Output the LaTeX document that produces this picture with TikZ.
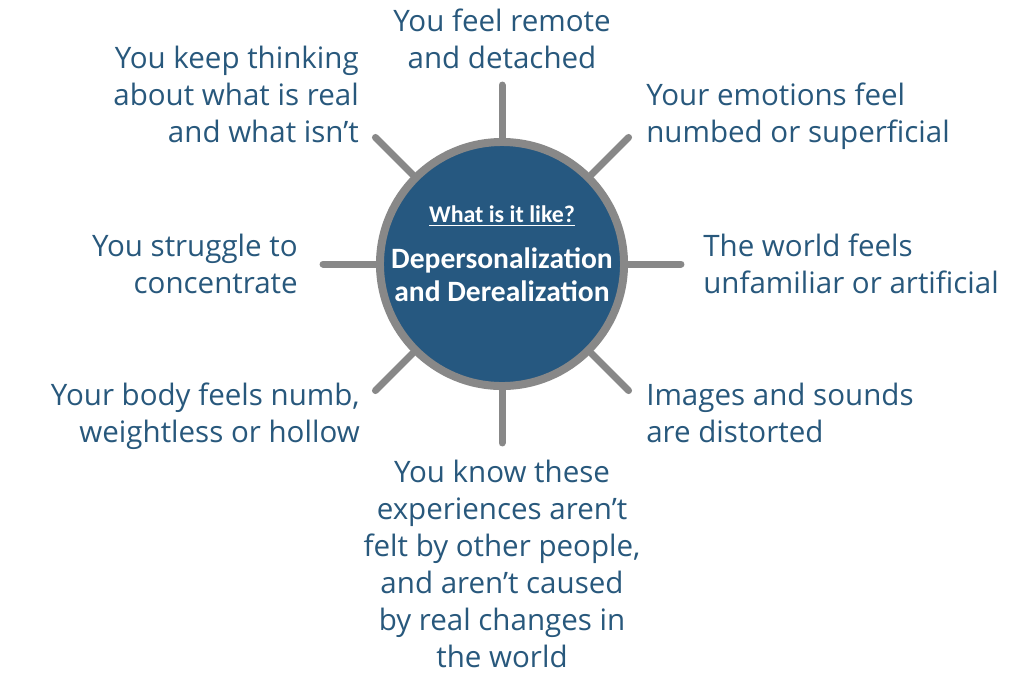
\documentclass[tikz,border=0pt]{standalone}
\usepackage{fontspec}
\setmainfont{Open Sans}
\newfontfamily\hubfont{Carlito}
\usetikzlibrary{calc}
\definecolor{hubblue}{RGB}{38,88,128}
\definecolor{ringgray}{RGB}{136,136,136}
\definecolor{inkblue}{RGB}{40,88,124}

\begin{document}
\begin{tikzpicture}[
  x=0.025cm, y=-0.025cm,
  hub/.style={circle, draw=ringgray, fill=hubblue, line width=0.2cm,
              minimum size=6.1cm, inner sep=0pt},
  hubtext/.style={text=white, align=center, inner sep=0pt,
              font=\hubfont\bfseries\fontsize{21}{23.5}\selectfont},
  feeling/.style={inner sep=0pt, text=inkblue,
              font=\fontsize{21}{26.3}\selectfont},
  spoke/.style={draw=ringgray, line width=0.175cm, line cap=round},
]
  \useasboundingbox (0,0) rectangle (1016,686);
  % centre disc
  \node[hub] (hub) at (502,264) {};
  \node[hubtext, font=\hubfont\bfseries\fontsize{17}{18}\selectfont] (question) at (502,216) {\underline{What is it like?}};
  \node[hubtext] (name) at (502,275) {Depersonalization\\and Derealization};

  % spokes
  \foreach \a in {0,45,...,315} {
    \coordinate (tip\a) at ($(hub.center)!1.42!(hub.\a)$);
    \draw[spoke] (hub.\a) -- (tip\a);
  }

  % feelings
  \node[feeling, anchor=north, align=center] (remote) at (502,9) {You feel remote\\and detached};
  \node[feeling, anchor=north east, align=right] (thinking) at (359,46) {You keep thinking\\about what is real\\and what isn't};
  \node[feeling, anchor=north west, align=left] (emotions) at (646,83) {Your emotions feel\\numbed or superficial};
  \node[feeling, anchor=north east, align=right] (concentrate) at (298,234) {You struggle to\\concentrate};
  \node[feeling, anchor=north west, align=left] (unfamiliar) at (703,234) {The world feels\\unfamiliar or artificial};
  \node[feeling, anchor=north east, align=right] (numb) at (360,383) {Your body feels numb,\\weightless or hollow};
  \node[feeling, anchor=north west, align=left] (distorted) at (646,383) {Images and sounds\\are distorted};
  \node[feeling, anchor=north, align=center] (know) at (502,460) {You know these\\experiences aren't\\felt by other people,\\and aren't caused\\by real changes in\\the world};
\end{tikzpicture}
\end{document}
